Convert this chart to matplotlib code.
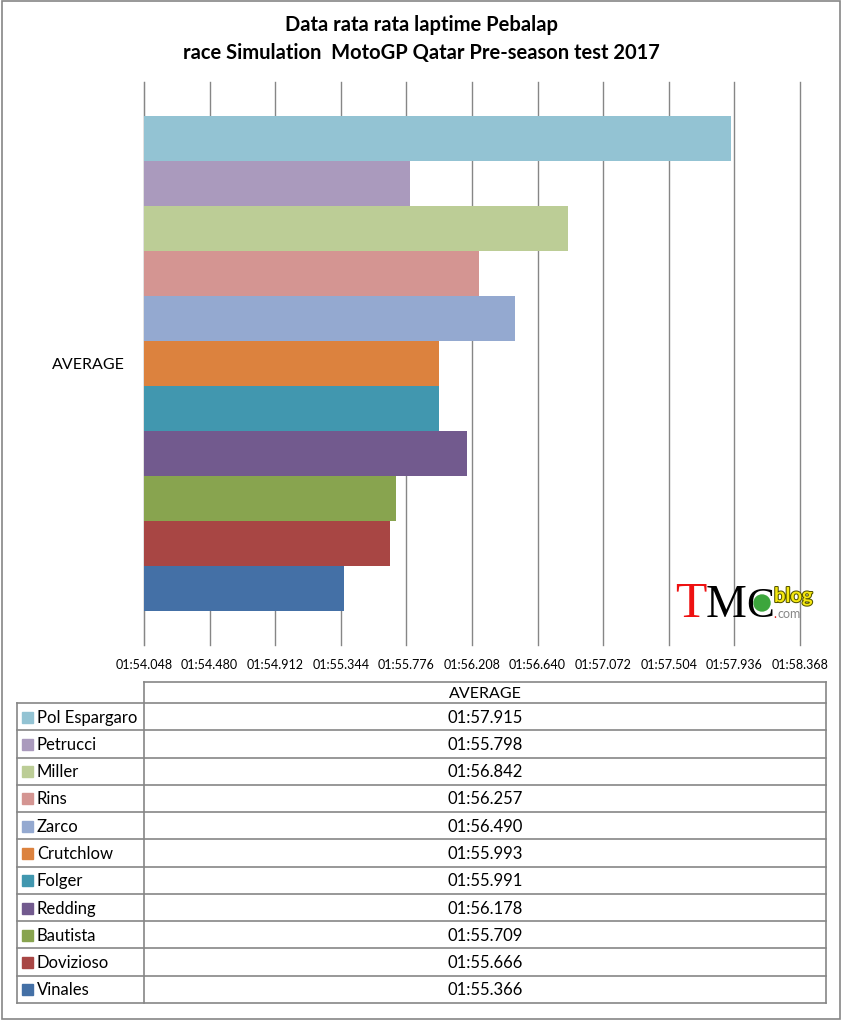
import matplotlib
matplotlib.use("Agg")
import matplotlib.pyplot as plt
import matplotlib.patheffects as pe
import numpy as np

plt.rcParams['font.family'] = ['Lato', 'DejaVu Sans']

# data: average lap time in seconds (01:57.915 -> 117.915)
riders = ["Pol Espargaro", "Petrucci", "Miller", "Rins", "Zarco", "Crutchlow",
          "Folger", "Redding", "Bautista", "Dovizioso", "Vinales"]
laptimes = [117.915, 115.798, 116.842, 116.257, 116.490, 115.993,
            115.991, 116.178, 115.709, 115.666, 115.366]
colours = ["#93C3D3", "#AA9ABD", "#BCCD96", "#D49592", "#94A9D0", "#DC823E",
           "#4197AF", "#725A8E", "#88A44F", "#A84644", "#4470A6"]
category = "AVERAGE"

xmin, xstep, nsteps = 114.048, 0.432, 10

def fmt(v):
    m = int(v // 60)
    return "%02d:%06.3f" % (m, v - 60 * m)

W, H = 843, 1021
fig = plt.figure(figsize=(W / 100, H / 100), dpi=100)
grey = "#868686"

# chart
ax = fig.add_axes([144 / W, 1 - 645 / H, 656 / W, 563 / H])
y = np.arange(len(riders))
ax.barh(y, np.array(laptimes) - xmin, left=xmin, height=1.0, color=colours, zorder=3)
ax.set_xlim(xmin, xmin + nsteps * xstep)
ax.set_ylim(len(riders) - 0.5 + 0.756, -0.5 - 0.756)
ticks = xmin + xstep * np.arange(nsteps + 1)
ax.set_xticks(ticks)
ax.set_xticklabels([fmt(t) for t in ticks], fontsize=9)
ax.tick_params(axis='x', length=0, pad=10)
ax.grid(axis='x', color=grey, linewidth=1.0, zorder=0)
for gl in ax.get_xgridlines():
    gl.set_clip_on(False)
ax.set_yticks([(len(riders) - 1) / 2])
ax.set_yticklabels([category], fontsize=11.5)
ax.tick_params(axis='y', length=0, pad=14)
for s in ['top', 'right', 'bottom']:
    ax.spines[s].set_visible(False)
ax.spines['left'].set_color(grey)

# overlay in pixel coordinates for frame, title, logo and data table
ov = fig.add_axes([0, 0, 1, 1], zorder=-1)
ov.set_xlim(0, W)
ov.set_ylim(H, 0)
ov.axis('off')
ov.add_patch(plt.Rectangle((2, 1.5), 838, 1017.5, fill=False, edgecolor=grey, lw=1.2))

fig.text(0.5, 1 - 25 / H, "Data rata rata laptime Pebalap", ha='center', va='center',
         fontsize=14.5, fontweight='bold')
fig.text(0.5, 1 - 53 / H, "race Simulation  MotoGP Qatar Pre-season test 2017",
         ha='center', va='center', fontsize=14.5, fontweight='bold')

# logo
ov2 = fig.add_axes([0, 0, 1, 1], zorder=5)
ov2.set_xlim(0, W)
ov2.set_ylim(H, 0)
ov2.axis('off')
ov2.text(675, 617, "T", color="#EE1111", fontsize=37, family='Liberation Serif', va='baseline')
ov2.text(706, 617, "M", color="black", fontsize=33, family='Liberation Serif', va='baseline')
ov2.text(746, 617, "C", color="black", fontsize=30, family='Liberation Serif', va='baseline')
ov2.add_patch(plt.Circle((762, 603), 8, color="#3CA63C", zorder=6))
ov2.text(774, 602, "blog", color="#F5E80F", fontsize=14.5, fontweight='bold', va='baseline',
         path_effects=[pe.withStroke(linewidth=1.5, foreground="#555500")])
ov2.text(773, 618, ".", color="#DD1111", fontsize=9, va='baseline')
ov2.text(777, 618, "com", color="#888888", fontsize=9, va='baseline')

# data table
tl, tc, tr = 17, 144, 826
top, hb = 682, 703
rh = (1003 - hb) / len(riders)
ov.plot([tc, tr], [top, top], color=grey, lw=1.2)
ov.plot([tc, tc], [top, 1003], color=grey, lw=1.2)
ov.plot([tr, tr], [top, 1003], color=grey, lw=1.2)
ov.plot([tl, tl], [hb, 1003], color=grey, lw=1.2)
for i in range(len(riders) + 1):
    ov.plot([tl, tr], [hb + i * rh] * 2, color=grey, lw=1.2)
mid = (tc + tr) / 2
ov.text(mid, (top + hb) / 2 + 1, category, ha='center', va='center', fontsize=11.5)
for i, (name, v, c) in enumerate(zip(riders, laptimes, colours)):
    yc = hb + (i + 0.5) * rh
    ov.add_patch(plt.Rectangle((22, yc - 5), 11, 11, color=c))
    ov.text(37, yc + 1, name, ha='left', va='center', fontsize=12)
    ov.text(mid, yc + 1, fmt(v), ha='center', va='center', fontsize=12)

fig.savefig("out.png", dpi=100)
